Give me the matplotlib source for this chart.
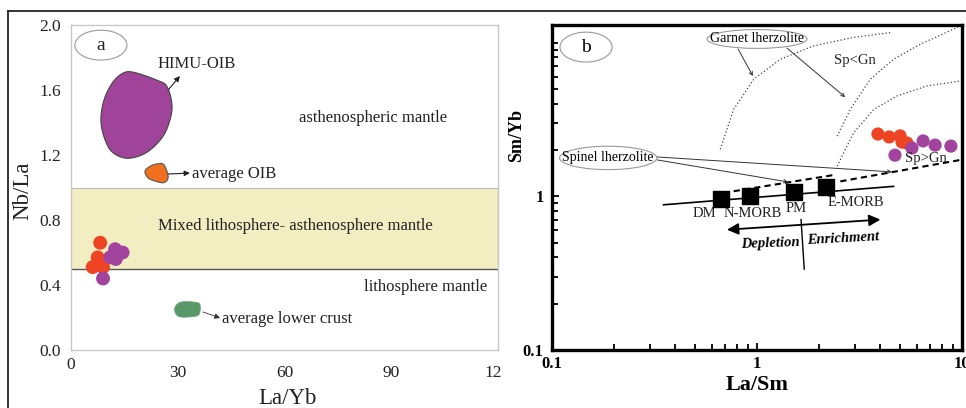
import numpy as np
import matplotlib
matplotlib.use("Agg")
import matplotlib.pyplot as plt
from matplotlib.patches import Ellipse, Polygon, Rectangle
from matplotlib.lines import Line2D
from matplotlib.transforms import Bbox, TransformedBbox, ScaledTranslation

plt.rcParams['font.family'] = ['Liberation Serif', 'DejaVu Serif']

# ---------------- panel (a): Nb/La vs La/Yb ----------------
a_xticks = [0, 30, 60, 90, 120]
a_yticks = [0.0, 0.4, 0.8, 1.2, 1.6, 2.0]
mixed_band = (0.5, 1.0)

a_red_x = [8.2, 7.5, 6.1, 9.0]
a_red_y = [0.66, 0.57, 0.51, 0.51]
a_pur_x = [12.4, 14.5, 11.0, 12.6, 9.0]
a_pur_y = [0.62, 0.60, 0.57, 0.56, 0.44]

# field outlines (La/Yb, Nb/La)
himu_x = [17.4, 24.2, 27.0, 28.4, 27.3, 25.0, 20.8, 15.7, 11.5, 9.3, 8.4, 9.3, 11.5, 14.3]
himu_y = [1.71, 1.66, 1.62, 1.50, 1.38, 1.29, 1.21, 1.18, 1.22, 1.31, 1.42, 1.54, 1.64, 1.70]
oib_x = [20.8, 22.2, 24.2, 26.1, 27.3, 26.1, 23.6, 21.6]
oib_y = [1.10, 1.13, 1.145, 1.14, 1.065, 1.03, 1.04, 1.06]
lc_x = [29.4, 31.0, 34.5, 36.2, 36.0, 34.0, 30.5, 29.2]
lc_y = [0.27, 0.295, 0.295, 0.28, 0.22, 0.205, 0.205, 0.235]

# ---------------- panel (b): Sm/Yb vs La/Sm ----------------
b_red_x = [3.89, 4.41, 4.99, 5.10, 5.39]
b_red_y = [2.54, 2.43, 2.47, 2.25, 2.22]
b_pur_x = [4.71, 5.70, 6.46, 7.39, 8.83]
b_pur_y = [1.85, 2.06, 2.29, 2.15, 2.12]

res_names = ['DM', 'N-MORB', 'PM', 'E-MORB']
res_x = [0.67, 0.92, 1.52, 2.17]
res_y = [0.96, 1.00, 1.06, 1.145]

trend_x = [0.35, 4.64]
trend_y = [0.88, 1.16]

garnet1_x = [0.662, 0.769, 0.964, 1.30, 1.89, 2.96, 4.47]
garnet1_y = [2.02, 3.67, 5.77, 7.79, 9.51, 10.8, 11.6]
garnet2_x = [2.46, 2.85, 3.57, 4.64, 6.26, 9.82]
garnet2_y = [2.46, 3.67, 5.77, 7.79, 9.75, 12.8]
garnet3_x = [2.46, 2.96, 3.71, 4.82, 6.75, 9.82]
garnet3_y = [1.57, 2.59, 3.67, 4.49, 5.22, 5.62]

spinel1_x = [0.769, 2.41]
spinel1_y = [1.078, 1.38]
spinel2_x = [2.55, 10.0]
spinel2_y = [1.25, 1.73]

RED = '#ee4424'
PURPLE = '#a2449e'


def smooth_closed(xs, ys, n=24):
    """Closed Catmull-Rom spline through the outline vertices."""
    p = np.column_stack([xs, ys]).astype(float)
    m = len(p)
    out = []
    for i in range(m):
        p0, p1, p2, p3 = p[(i - 1) % m], p[i], p[(i + 1) % m], p[(i + 2) % m]
        t = np.linspace(0, 1, n, endpoint=False)[:, None]
        seg = 0.5 * ((2 * p1) + (-p0 + p2) * t + (2 * p0 - 5 * p1 + 4 * p2 - p3) * t ** 2
                     + (-p0 + 3 * p1 - 3 * p2 + p3) * t ** 3)
        out.append(seg)
    return np.vstack(out)


fig = plt.figure(figsize=(9.66, 4.08), dpi=100)

# outer frame
fig.add_artist(Line2D([8 / 966, 1.0], [1 - 11 / 408, 1 - 11 / 408], color='#222222', lw=1.3))
fig.add_artist(Line2D([8 / 966, 8 / 966], [0.0, 1 - 11 / 408], color='#222222', lw=1.3))

# ---------- left panel ----------
ax1 = fig.add_axes([71 / 966, 1 - 350 / 408, 427 / 966, 325 / 408])
ax1.set_xlim(0, 120)
ax1.set_ylim(0, 2.0)
for s in ax1.spines.values():
    s.set_color('#c8c8c8')
    s.set_linewidth(1.0)
ax1.set_xticks(a_xticks)
ax1.set_xticklabels([str(v) for v in a_xticks])
ax1.set_yticks(a_yticks)
ax1.set_yticklabels([f'{v:.1f}' for v in a_yticks])
ax1.tick_params(axis='both', length=0, labelsize=12.5, colors='#222222')
ax1.tick_params(axis='x', pad=11)
ax1.tick_params(axis='y', pad=7)

xl = ax1.get_xticklabels()
xl[0].set_transform(xl[0].get_transform() + ScaledTranslation(0, 8 / 100, fig.dpi_scale_trans))
clip = TransformedBbox(Bbox([[0, 0], [502 / 966, 1]]), fig.transFigure)
xl[-1].set_clip_box(clip)
xl[-1].set_clip_on(True)

ax1.set_xlabel('La/Yb', fontsize=16.5, color='#222222')
ax1.xaxis.set_label_coords(0.506, -0.117)
ax1.set_ylabel('Nb/La', fontsize=16.5, color='#222222')
ax1.yaxis.set_label_coords(-0.089, 0.49)

ax1.add_patch(Rectangle((0, mixed_band[0]), 120, mixed_band[1] - mixed_band[0],
                        facecolor='#f3edc2', edgecolor='none', zorder=0.5))
ax1.plot([0, 120], [mixed_band[0]] * 2, color='#555555', lw=1.0, zorder=0.6)
ax1.plot([0, 120], [mixed_band[1]] * 2, color='#bbbbbb', lw=0.8, zorder=0.6)
ax1.plot([120, 120], list(mixed_band), color='#777777', lw=0.8, zorder=0.6)

ax1.add_patch(Polygon(smooth_closed(himu_x, himu_y), closed=True,
                      facecolor='#a0449a', edgecolor='#444444', lw=0.8, zorder=2))
ax1.add_patch(Polygon(smooth_closed(oib_x, oib_y), closed=True,
                      facecolor='#f07020', edgecolor='#555555', lw=0.8, zorder=2))
ax1.add_patch(Polygon(smooth_closed(lc_x, lc_y), closed=True,
                      facecolor='#5a9868', edgecolor='#6fa37b', lw=0.6, zorder=2))

ax1.scatter(a_red_x, a_red_y, s=100, color=RED, edgecolors='none', zorder=3)
ax1.scatter(a_pur_x, a_pur_y, s=100, color=PURPLE, edgecolors='none', zorder=3)

arrow_kw = dict(arrowstyle='-|>', color='#222222', lw=0.8, mutation_scale=8,
                shrinkA=0, shrinkB=0)
ax1.annotate('', xy=(30.6, 1.686), xytext=(27.3, 1.60), arrowprops=arrow_kw)
ax1.annotate('', xy=(33.4, 1.089), xytext=(27.3, 1.083), arrowprops=arrow_kw)
ax1.annotate('', xy=(41.9, 0.197), xytext=(37.1, 0.234),
             arrowprops=dict(arrow_kw, color='#333333', lw=0.6))

txt = dict(fontsize=12, color='#222222')
ax1.text(24.2, 1.76, 'HIMU-OIB', ha='left', va='center', **txt)
ax1.text(34.0, 1.085, 'average OIB', ha='left', va='center', **txt)
ax1.text(42.4, 0.19, 'average lower crust', ha='left', va='center', **txt)
ax1.text(85, 1.43, 'asthenospheric mantle', ha='center', va='center', **txt)
ax1.text(63, 0.76, 'Mixed lithosphere- asthenosphere mantle', ha='center', va='center', **txt)
ax1.text(99.7, 0.39, 'lithosphere mantle', ha='center', va='center', **txt)

ax1.add_patch(Ellipse((0.070, 0.938), 0.122, 0.092, transform=ax1.transAxes,
                      facecolor='none', edgecolor='#9a9a9a', lw=0.8))
ax1.text(0.070, 0.938, 'a', transform=ax1.transAxes, ha='center', va='center',
         fontsize=14, color='#222222')

# ---------- right panel ----------
ax2 = fig.add_axes([552 / 966, 1 - 350 / 408, 410 / 966, 325 / 408])
ax2.set_xscale('log')
ax2.set_yscale('log')
ax2.set_xlim(0.1, 10)
ax2.set_ylim(0.1, 13)
for s in ax2.spines.values():
    s.set_color('black')
    s.set_linewidth(2.4)
ax2.set_xticks([0.1, 1, 10])
ax2.set_xticklabels(['0.1', '1', '10'])
ax2.set_xticks([v * d for d in (0.1, 1) for v in range(2, 10)], minor=True)
ax2.set_yticks([0.1, 1])
ax2.set_yticklabels(['0.1', '1'])
ax2.set_yticks([v * d for d in (0.1, 1) for v in range(2, 10)] + [10], minor=True)
ax2.tick_params(which='both', direction='in', width=1.3, labelsize=12, colors='black')
ax2.tick_params(which='major', length=5)
ax2.tick_params(which='minor', length=4, labelleft=False, labelbottom=False)
ax2.tick_params(axis='x', pad=4)
ax2.tick_params(axis='y', pad=6)
for lab in ax2.get_xticklabels() + ax2.get_yticklabels():
    lab.set_fontweight('bold')
ax2.set_xlabel('La/Sm', fontsize=16, fontweight='bold')
ax2.xaxis.set_label_coords(0.5, -0.078)
ax2.set_ylabel('Sm/Yb', fontsize=13, fontweight='bold')
ax2.yaxis.set_label_coords(-0.066, 0.66)

dot = dict(color='#444444', lw=0.9, ls=(0, (1, 1.8)))
ax2.plot(garnet1_x, garnet1_y, **dot)
ax2.plot(garnet2_x, garnet2_y, **dot)
ax2.plot(garnet3_x, garnet3_y, **dot)

dash = dict(color='black', lw=1.5, ls=(0, (3, 2)))
ax2.plot(spinel1_x, spinel1_y, **dash)
ax2.plot(spinel2_x, spinel2_y, **dash)

ax2.plot(trend_x, trend_y, color='black', lw=1.2, zorder=3)
ax2.scatter(res_x, res_y, s=120, marker='s', color='black', zorder=4)
res_off = [(-17, -15), (3, -17), (2, -16), (30, -15)]
for name, x, y, off in zip(res_names, res_x, res_y, res_off):
    ax2.annotate(name, (x, y), xytext=off, textcoords='offset pixels',
                 ha='center', va='center', fontsize=10.5, color='#222222')

ax2.annotate('', xy=(0.714, 0.606), xytext=(4.0, 0.705),
             arrowprops=dict(arrowstyle='<|-|>', color='black', lw=1.3,
                             mutation_scale=17, shrinkA=0, shrinkB=0))
ax2.plot([1.64, 1.70], [0.705, 0.336], color='black', lw=1.0)
ax2.text(1.16, 0.496, 'Depletion', ha='center', va='center', fontsize=10.5,
         fontweight='bold', fontstyle='italic', rotation=2)
ax2.text(2.63, 0.527, 'Enrichment', ha='center', va='center', fontsize=10.5,
         fontweight='bold', fontstyle='italic', rotation=3)

ax2.scatter(b_red_x, b_red_y, s=90, color=RED, edgecolors='none', zorder=5)
ax2.scatter(b_pur_x, b_pur_y, s=90, color=PURPLE, edgecolors='none', zorder=5)

ax2.text(3.01, 7.63, 'Sp<Gn', ha='center', va='center', fontsize=10.5, color='#222222')
ax2.text(6.67, 1.77, 'Sp>Gn', ha='center', va='center', fontsize=10.5, color='#222222', zorder=6)

# field labels in ellipses (axes fraction)
thin = dict(arrowstyle='->', color='#333333', lw=0.7, mutation_scale=6, shrinkA=0, shrinkB=0)
ax2.add_patch(Ellipse((0.083, 0.932), 0.127, 0.092, transform=ax2.transAxes,
                      facecolor='none', edgecolor='#9a9a9a', lw=0.8))
ax2.text(0.083, 0.932, 'b', transform=ax2.transAxes, ha='center', va='center', fontsize=14)

ax2.add_patch(Ellipse((0.5, 0.957), 0.244, 0.058, transform=ax2.transAxes,
                      facecolor='white', edgecolor='#9a9a9a', lw=0.8, zorder=6))
ax2.text(0.5, 0.957, 'Garnet lherzolite', transform=ax2.transAxes, ha='center',
         va='center', fontsize=10, zorder=7)
ax2.annotate('', xy=(0.490, 0.843), xytext=(0.454, 0.926), xycoords='axes fraction',
             textcoords='axes fraction', arrowprops=thin)
ax2.annotate('', xy=(0.715, 0.778), xytext=(0.573, 0.929), xycoords='axes fraction',
             textcoords='axes fraction', arrowprops=thin)

ax2.add_patch(Ellipse((0.137, 0.591), 0.237, 0.072, transform=ax2.transAxes,
                      facecolor='white', edgecolor='#9a9a9a', lw=0.8, zorder=6))
ax2.text(0.137, 0.591, 'Spinel lherzolite', transform=ax2.transAxes, ha='center',
         va='center', fontsize=10, zorder=7)
ax2.annotate('', xy=(0.829, 0.548), xytext=(0.256, 0.594), xycoords='axes fraction',
             textcoords='axes fraction', arrowprops=thin)
ax2.annotate('', xy=(0.576, 0.517), xytext=(0.256, 0.585), xycoords='axes fraction',
             textcoords='axes fraction', arrowprops=thin)

fig.savefig('out.png', dpi=100)
